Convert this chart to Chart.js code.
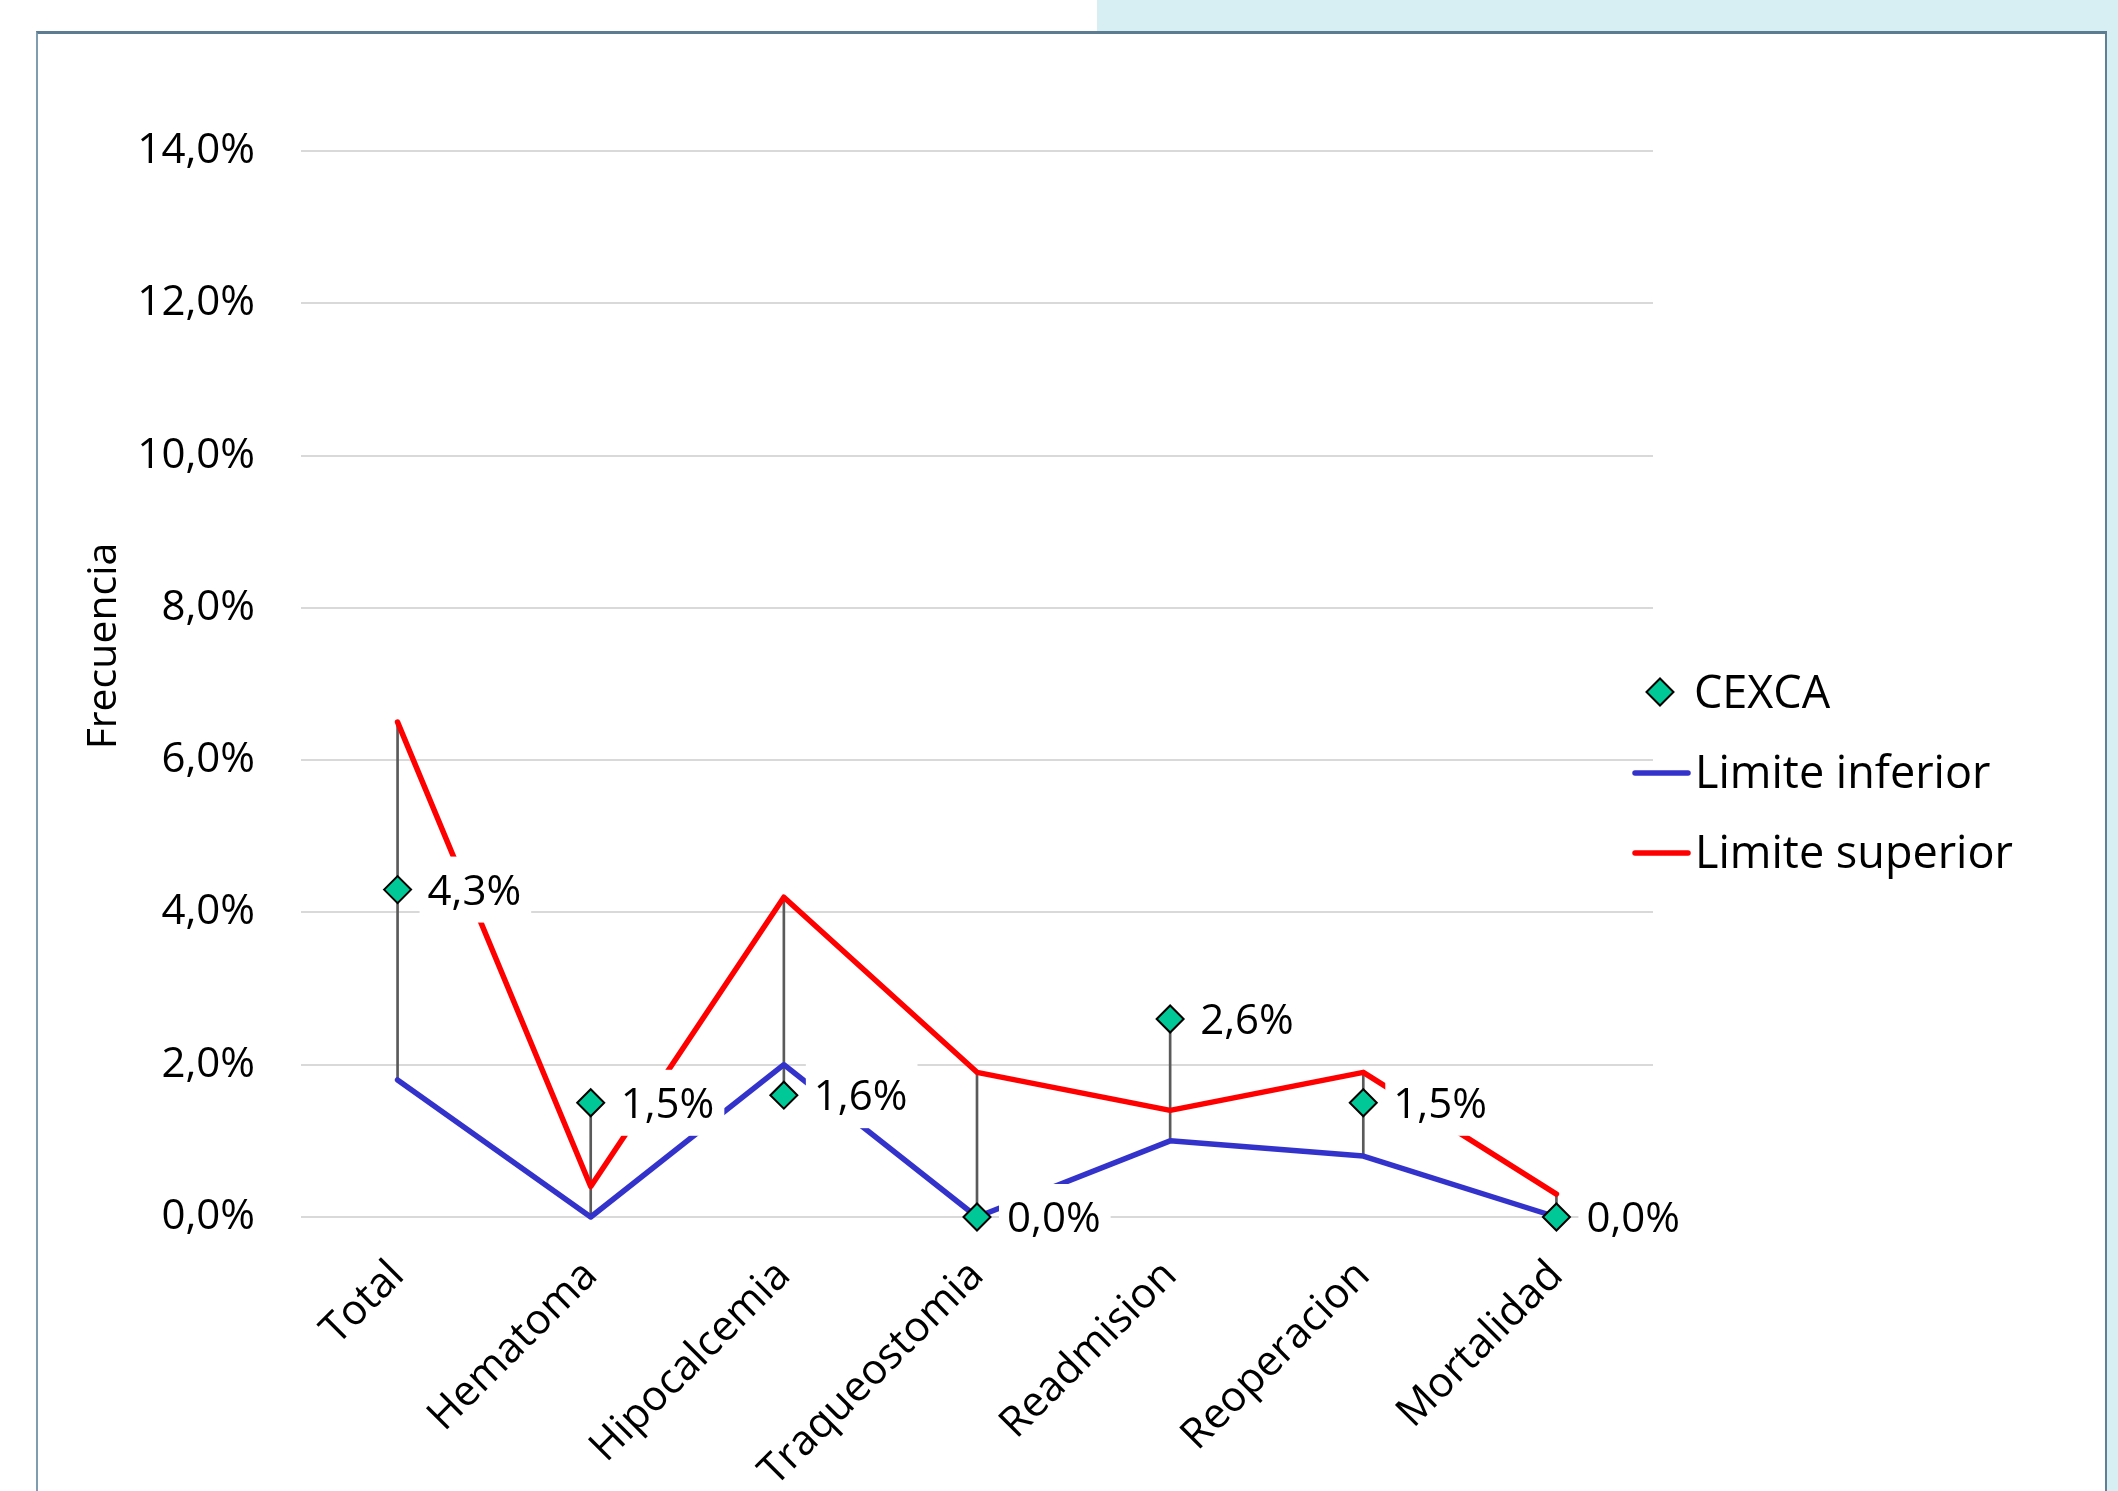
<!DOCTYPE html>
<html>
<head>
<meta charset="utf-8">
<script src="https://cdn.jsdelivr.net/npm/chart.js@4.4.1/dist/chart.umd.min.js"></script>
<style>
  html, body { margin: 0; padding: 0; width: 2118px; height: 1491px; overflow: hidden; background: #ffffff; }
  #bgBlue { position: absolute; left: 1097px; top: 0; width: 1021px; height: 1491px; background: #d7eff3; }
  #frame { position: absolute; left: 36px; top: 31px; width: 2067px; height: 1500px; background: #ffffff;
           border-top: 3px solid #5c7c91; border-left: 2px solid #7f9cb1; border-right: 2px solid #5f7f94; }
  #c { position: absolute; left: 0; top: 0; }
</style>
</head>
<body>
<div id="bgBlue"></div>
<div id="frame"></div>
<canvas id="c" width="2118" height="1491"></canvas>
<script>
// ---- data ----
const categories = ['Total', 'Hematoma', 'Hipocalcemia', 'Traqueostomia', 'Readmision', 'Reoperacion', 'Mortalidad'];
const cexca = [4.3, 1.5, 1.6, 0.0, 2.6, 1.5, 0.0];
const limiteInferior = [1.8, 0.0, 2.0, 0.0, 1.0, 0.8, 0.0];
const limiteSuperior = [6.5, 0.4, 4.2, 1.9, 1.4, 1.9, 0.3];
const seriesNames = ['CEXCA', 'Limite inferior', 'Limite superior'];
const yAxisTitle = 'Frecuencia';
const yTickValues = [0, 2, 4, 6, 8, 10, 12, 14];

const fmtPct = v => v.toFixed(1).replace('.', ',') + '%';
const FONT = "'Open Sans', 'DejaVu Sans', sans-serif";

// high-low ranges derived from the series
const highLow = categories.map((_, i) => {
  const vals = [cexca[i], limiteInferior[i], limiteSuperior[i]];
  return [Math.min(...vals), Math.max(...vals)];
});

const COLORS = { marker: '#00c896', low: '#3333cc', high: '#ff0000', hl: '#5a5a5a', grid: '#d9d9d9' };

function drawDiamond(ctx, x, y, r) {
  ctx.beginPath();
  ctx.moveTo(x - r, y); ctx.lineTo(x, y - r); ctx.lineTo(x + r, y); ctx.lineTo(x, y + r); ctx.closePath();
  ctx.fillStyle = COLORS.marker; ctx.fill();
  ctx.lineWidth = 2; ctx.strokeStyle = '#000'; ctx.stroke();
}

const labelPlugin = {
  id: 'dataLabels',
  afterDatasetsDraw(chart) {
    const ctx = chart.ctx;
    const meta = chart.getDatasetMeta(3);
    ctx.save();
    ctx.font = '42px ' + FONT;
    ctx.textBaseline = 'middle';
    ctx.textAlign = 'left';
    meta.data.forEach((el, i) => {
      const txt = fmtPct(cexca[i]);
      const w = ctx.measureText(txt).width;
      const bx = el.x + 22, by = el.y - 33;
      ctx.fillStyle = '#ffffff';
      ctx.fillRect(bx, by, w + 18, 66);
      ctx.fillStyle = '#000000';
      ctx.fillText(txt, el.x + 30, el.y + 3);
    });
    ctx.restore();
  }
};

const extrasPlugin = {
  id: 'extras',
  afterDraw(chart) {
    const ctx = chart.ctx;
    ctx.save();
    // y axis title
    ctx.translate(104, 646);
    ctx.rotate(-Math.PI / 2);
    ctx.font = '41px ' + FONT;
    ctx.fillStyle = '#000';
    ctx.textAlign = 'center';
    ctx.textBaseline = 'middle';
    ctx.fillText(yAxisTitle, 0, 0);
    ctx.restore();

    // legend
    ctx.save();
    ctx.font = '45px ' + FONT;
    ctx.fillStyle = '#000';
    ctx.textAlign = 'left';
    ctx.textBaseline = 'alphabetic';
    drawDiamond(ctx, 1660, 692, 13.5);
    ctx.fillStyle = '#000';
    ctx.fillText(seriesNames[0], 1694, 708);
    ctx.lineCap = 'round';
    ctx.lineWidth = 5.5;
    ctx.strokeStyle = COLORS.low;
    ctx.beginPath(); ctx.moveTo(1635, 773); ctx.lineTo(1688, 773); ctx.stroke();
    ctx.fillText(seriesNames[1], 1695, 788);
    ctx.strokeStyle = COLORS.high;
    ctx.beginPath(); ctx.moveTo(1635, 853); ctx.lineTo(1688, 853); ctx.stroke();
    ctx.fillText(seriesNames[2], 1695, 868);
    ctx.restore();
  }
};

function build() {
  Chart.defaults.font.family = FONT;
  Chart.defaults.color = '#000';
  new Chart(document.getElementById('c'), {
    data: {
      labels: categories,
      datasets: [
        {
          type: 'bar', label: 'hl', data: highLow, backgroundColor: COLORS.hl,
          barThickness: 2, grouped: false, order: 4, clip: false
        },
        {
          type: 'line', label: seriesNames[1], data: limiteInferior, borderColor: COLORS.low,
          borderWidth: 5.5, pointRadius: 0, tension: 0, fill: false, order: 3, clip: false,
          borderCapStyle: 'round', borderJoinStyle: 'round'
        },
        {
          type: 'line', label: seriesNames[2], data: limiteSuperior, borderColor: COLORS.high,
          borderWidth: 5.5, pointRadius: 0, tension: 0, fill: false, order: 2, clip: false,
          borderCapStyle: 'round', borderJoinStyle: 'round'
        },
        {
          type: 'line', label: seriesNames[0], data: cexca, showLine: false, clip: false,
          pointStyle: 'rectRot', pointRadius: 13.5, pointBackgroundColor: COLORS.marker,
          pointBorderColor: '#000', pointBorderWidth: 2, order: 1
        }
      ]
    },
    options: {
      responsive: false,
      animation: false,
      events: [],
      layout: { padding: { left: 40, top: 151, right: 465, bottom: 0 } },
      plugins: { legend: { display: false }, tooltip: { enabled: false } },
      scales: {
        x: {
          type: 'category', offset: true,
          grid: { display: false, drawTicks: false },
          border: { display: false },
          ticks: { autoSkip: false, maxRotation: 45, minRotation: 45, padding: 34,
                   font: { size: 42 }, color: '#000' },
          afterFit(s) { s.height = 274; }
        },
        y: {
          min: 0, max: 14,
          afterBuildTicks(s) { s.ticks = yTickValues.map(v => ({ value: v })); },
          grid: { color: COLORS.grid, lineWidth: 2, drawTicks: false },
          border: { display: false },
          ticks: { padding: 46, font: { size: 42 }, color: '#000', callback: v => fmtPct(v) },
          afterFit(s) { s.width = 261; }
        }
      }
    },
    plugins: [labelPlugin, extrasPlugin]
  });
}

if (document.fonts && document.fonts.load) {
  Promise.all([document.fonts.load('42px "Open Sans"')]).then(build, build);
} else { build(); }
</script>
</body>
</html>
